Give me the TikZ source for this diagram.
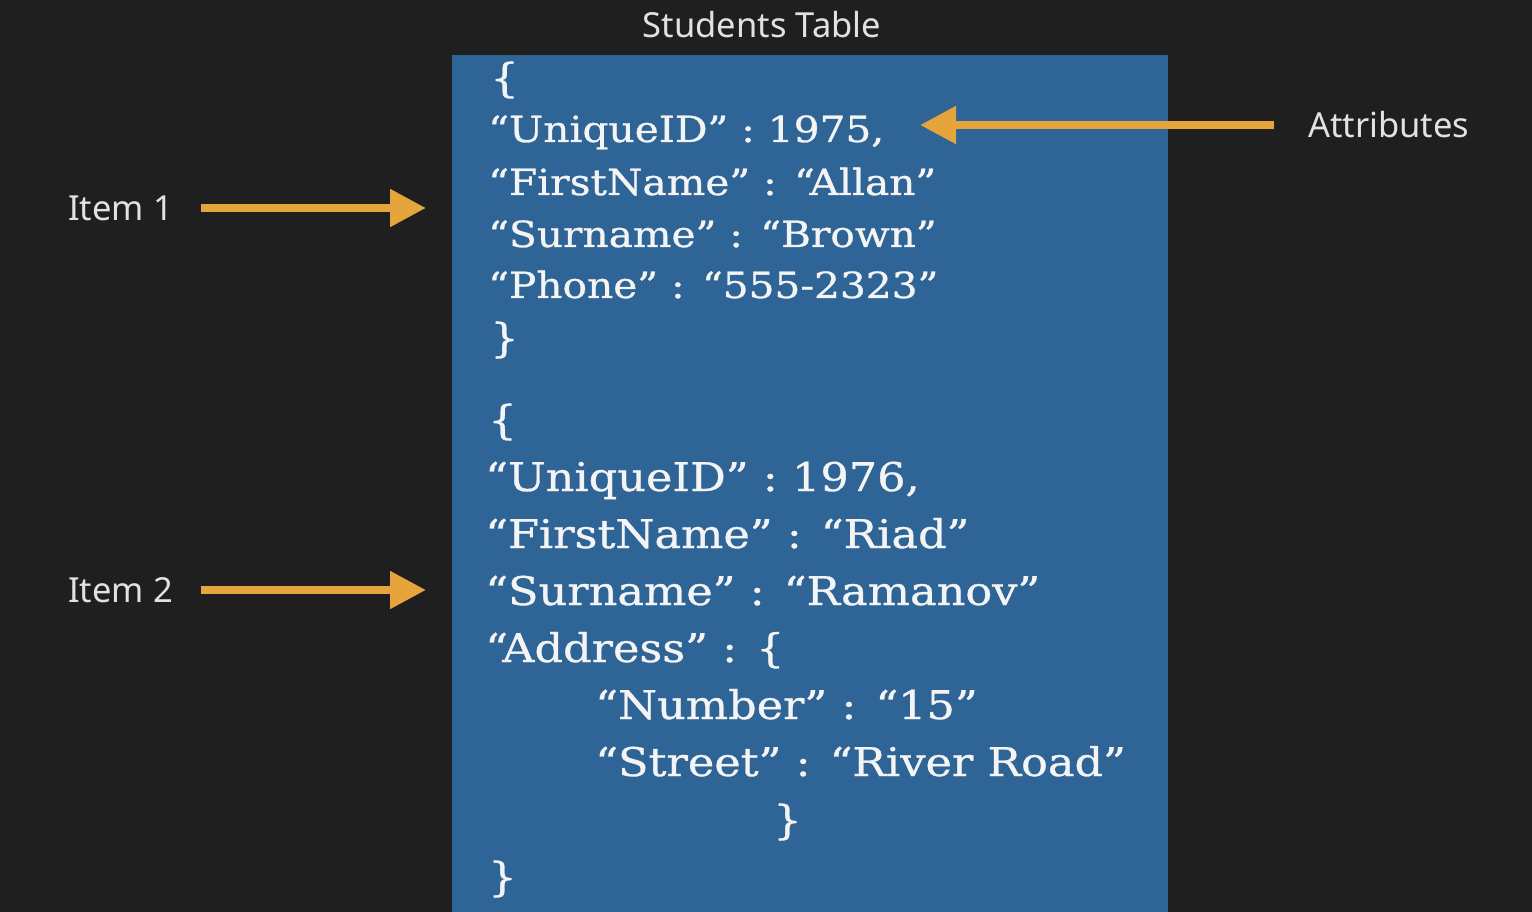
\documentclass[tikz,border=0pt]{standalone}
\usepackage{fontspec}
\setmainfont[FakeStretch=1.13,FakeBold=0.8]{DejaVu Serif}
\newfontfamily\labelfont{Noto Sans}
\usetikzlibrary{arrows.meta}
\definecolor{bgdark}{HTML}{1F1F1F}
\definecolor{tableblue}{HTML}{2E6496}
\definecolor{arroworange}{HTML}{E6A53C}
\definecolor{codewhite}{HTML}{F4F4F4}
\definecolor{labelgrey}{HTML}{E2E2E2}
\tikzset{
  lbl/.style={text=labelgrey, font=\labelfont\fontsize{34.5}{38}\selectfont, inner sep=0pt},
  codeA/.style={text=codewhite, font=\fontsize{36}{40}\selectfont, anchor=base west, inner sep=0pt},
  codeB/.style={text=codewhite, font=\fontsize{39.5}{44}\selectfont, anchor=base west, inner sep=0pt},
  brace/.style={text=codewhite, font=\fontsize{40}{44}\selectfont, anchor=base west, inner sep=0pt},
  pointer/.style={draw=arroworange, line width=8pt, -{Triangle[length=36pt,width=36pt]}},
}
\begin{document}
\begin{tikzpicture}[x=1pt,y=-1pt]
\useasboundingbox (0,0) rectangle (1532,912);
\fill[bgdark] (0,0) rectangle (1532,912);
\fill[tableblue] (452,55) rectangle (1168,912);
\node[lbl] (title) at (762,25) {Students Table};
% item 1
\node[brace] (o1) at (490,92) {\{};
\node[codeA] (a1) at (488,142) {“UniqueID” : 1975,};
\node[codeA] (a2) at (488,195) {“FirstName” : “Allan”};
\node[codeA] (a3) at (488,247) {“Surname” : “Brown”};
\node[codeA] (a4) at (488,298) {“Phone” : “555-2323”};
\node[brace] (c1) at (490,352) {\}};
% item 2
\node[brace] (o2) at (488,434) {\{};
\node[codeB] (b1) at (485,491) {“UniqueID” : 1976,};
\node[codeB] (b2) at (485,548) {“FirstName” : “Riad”};
\node[codeB] (b3) at (485,605) {“Surname” : “Ramanov”};
\node[codeB] (b4) at (485,662) {“Address” : \{};
\node[codeB] (b5) at (595,719) {“Number” : “15”};
\node[codeB] (b6) at (595,776) {“Street” : “River Road”};
\node[brace] (c2) at (773,834) {\}};
\node[brace] (c3) at (488,891) {\}};
% labels and arrows
\node[lbl, anchor=west] (item1) at (68,208) {Item 1};
\node[lbl, anchor=west] (item2) at (68,590) {Item 2};
\node[lbl, anchor=west] (attr) at (1308,125) {Attributes};
\coordinate (p1s) at (201,208);
\coordinate (p1e) at (426,208);
\coordinate (p2s) at (201,590);
\coordinate (p2e) at (426,590);
\coordinate (pas) at (1274,125);
\coordinate (pae) at (920,125);
\draw[pointer] (p1s) -- (p1e);
\draw[pointer] (p2s) -- (p2e);
\draw[pointer] (pas) -- (pae);
\end{tikzpicture}
\end{document}
